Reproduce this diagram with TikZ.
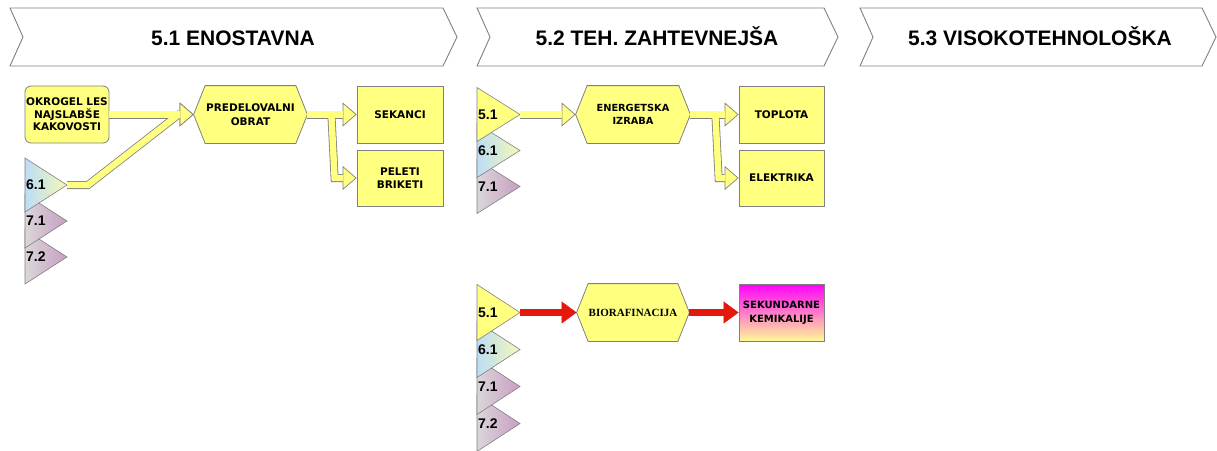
\documentclass[tikz,border=0pt]{standalone}
\usepackage{fontspec}
\setmainfont{Liberation Sans}
\newfontfamily\boxfont{DejaVu Sans}
\newfontfamily\serfont{Liberation Serif}
\usepackage{tikz}
\usetikzlibrary{arrows.meta}
\pgfdeclarelayer{background}
\pgfsetlayers{background,main}
\definecolor{yfill}{RGB}{255,255,128}
\definecolor{edgegray}{RGB}{128,128,128}
\definecolor{arrred}{RGB}{228,24,12}
\definecolor{tblue}{RGB}{188,221,246}
\definecolor{tyel}{RGB}{244,248,182}
\definecolor{tgray}{RGB}{218,214,218}
\definecolor{tmauve}{RGB}{200,158,194}
\definecolor{kemtop}{RGB}{255,0,250}
\definecolor{kembot}{RGB}{255,250,150}

\begin{document}
\begin{tikzpicture}[
  x=1pt, y=-1pt,
  chev/.style={draw=edgegray, fill=white, line width=0.9pt},
  hdr/.style={font=\bfseries\fontsize{21}{24}\selectfont, inner sep=0pt,
              text height=15pt, text depth=0pt},
  ybox/.style={draw=edgegray, fill=yfill, line width=0.8pt, align=center,
               minimum width=85pt, minimum height=57pt, inner sep=0pt,
               font=\boxfont\bfseries\fontsize{10.5}{12.5}\selectfont},
  yhex/.style={ybox, draw=none, fill=none, minimum width=113pt},
  hexshape/.style={draw=edgegray, fill=yfill, line width=0.8pt},
  tri/.style={draw=edgegray, line width=0.6pt},
  triyel/.style={fill=yfill},
  triblue/.style={left color=tblue, right color=tyel},
  trimauve/.style={left color=tgray, right color=tmauve},
  trilab/.style={font=\bfseries\fontsize{14}{16}\selectfont, inner sep=1pt, anchor=west},
  yout/.style={draw=edgegray, line width=8pt,
               -{Triangle[length=14pt, width=24pt, line width=0.7pt, fill=yfill]}},
  yin/.style={draw=yfill, line width=6.4pt, shorten >=13.2pt},
  rarr/.style={draw=arrred, line width=7pt,
               -{Triangle[length=15pt, width=22pt, line width=0.5pt]}}
]
\useasboundingbox (0,0) rectangle (1217,450);
% ----- header chevrons -----
\foreach \nm/\xa/\xb/\xt/\txt in {51/10/457/233/5.1 ENOSTAVNA,
    52/477/838/657/5.2 TEH. ZAHTEVNEJŠA, 53/860/1216/1040/5.3 VISOKOTEHNOLOŠKA}{
  \path[chev] (\xa,8) -- (\xb-14,8) -- (\xb,37) -- (\xb-14,66) -- (\xa,66) -- (\xa+13,37) -- cycle;
  \node[hdr] (h\nm) at (\xt,37.5) {\txt};
}
% ----- 5.1 inputs -----
\foreach \nm/\lab/\ty/\tst in {72/7.2/257/trimauve, 71/7.1/221/trimauve, 61/6.1/185/triblue}{
  \path[tri, \tst] (25,\ty-27) -- (67,\ty) -- (25,\ty+27) -- cycle;
  \coordinate (s1-\nm-tip) at (67,\ty);
  \node[trilab] (s1-\nm) at (25,\ty) {\lab};
}
% ----- 5.2 inputs, upper row -----
\foreach \nm/\lab/\ty/\tst in {71/7.1/186.5/trimauve, 61/6.1/150.5/triblue, 51/5.1/114.5/triyel}{
  \path[tri, \tst] (477,\ty-27) -- (520,\ty) -- (477,\ty+27) -- cycle;
  \coordinate (s2a-\nm-tip) at (520,\ty);
  \node[trilab] (s2a-\nm) at (477,\ty) {\lab};
}
% ----- 5.2 inputs, lower row -----
\foreach \nm/\lab/\ty/\tst in {72/7.2/423.5/trimauve, 71/7.1/386.5/trimauve,
    61/6.1/349.5/triblue, 51/5.1/312.5/triyel}{
  \path[tri, \tst] (477,\ty-28) -- (520,\ty) -- (477,\ty+28) -- cycle;
  \coordinate (s2b-\nm-tip) at (520,\ty);
  \node[trilab] (s2b-\nm) at (477,\ty) {\lab};
}
% ----- 5.1 ENOSTAVNA -----
\node[ybox, rounded corners=6pt, minimum width=84pt] (okrogel) at (67,114.5)
  {OKROGEL LES\\NAJSLABŠE\\KAKOVOSTI};
\node[yhex, font=\boxfont\bfseries\fontsize{10.5}{14}\selectfont] (predel) at (250.5,114.5)
  {PREDELOVALNI\\OBRAT};
\node[ybox, minimum width=86pt] (sekanci) at (400,114.5) {SEKANCI};
\node[ybox, minimum width=86pt, minimum height=56pt] (peleti) at (400,178) {PELETI\\BRIKETI};
% ----- 5.2 TEH. ZAHTEVNEJSA -----
\node[yhex, minimum width=114pt, font=\boxfont\bfseries\fontsize{9.8}{13}\selectfont] (energ)
  at (633,114.5) {ENERGETSKA\\IZRABA};
\node[ybox] (toplota) at (781.5,114.5) {TOPLOTA};
\node[ybox, minimum height=56pt] (elektrika) at (781.5,178) {ELEKTRIKA};
\node[yhex, minimum width=112pt, font=\serfont\bfseries\fontsize{11}{13}\selectfont] (bioraf)
  at (633,312.5) {BIORAFINACIJA};
\node[ybox, top color=kemtop, bottom color=kembot,
      font=\boxfont\bfseries\fontsize{10}{14}\selectfont] (sekund) at (781.5,312.5)
  {SEKUNDARNE\\KEMIKALIJE};
% ----- hexagon outlines behind the texts -----
\begin{pgfonlayer}{background}
  \foreach \h in {predel, energ, bioraf}
    \path[hexshape] (\h.west) -- ([xshift=11.5]\h.north west) -- ([xshift=-11.5]\h.north east)
      -- (\h.east) -- ([xshift=-11.5]\h.south east) -- ([xshift=11.5]\h.south west) -- cycle;
\end{pgfonlayer}
% ----- yellow flows: outline first, then filling -----
\foreach \st in {yout, yin}{
  \draw[\st] (okrogel.east) -- (predel.west);
  \draw[\st] (s1-61-tip) -- ++(21,0) -- ([xshift=-15]predel.west) -- (predel.west);
  \draw[\st] (predel.east) -- (sekanci.west);
  \draw[\st] ([xshift=24]predel.east) -- ([xshift=-22]peleti.west) -- (peleti.west);
  \draw[\st] (s2a-51-tip) -- (energ.west);
  \draw[\st] (energ.east) -- (toplota.west);
  \draw[\st] ([xshift=25]energ.east) -- ([xshift=-20]elektrika.west) -- (elektrika.west);
}
% ----- red flows -----
\draw[rarr] (s2b-51-tip) -- (bioraf.west);
\draw[rarr] (bioraf.east) -- (sekund.west);
\end{tikzpicture}
\end{document}
